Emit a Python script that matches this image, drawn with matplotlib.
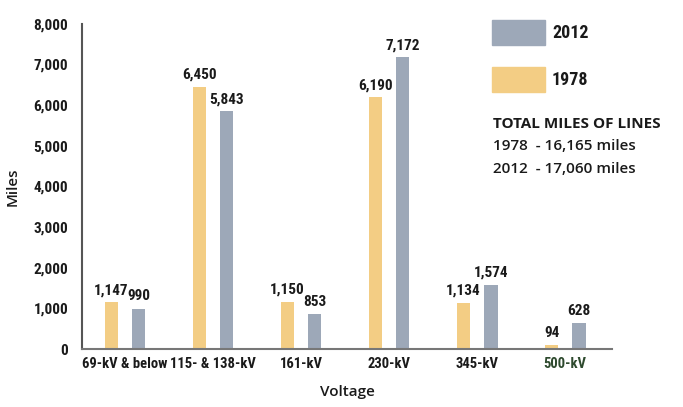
import numpy as np
import matplotlib.pyplot as plt

categories = ["69-kV & below", "115- & 138-kV", "161-kV", "230-kV", "345-kV", "500-kV"]
miles_1978 = [1147, 6450, 1150, 6190, 1134, 94]
miles_2012 = [990, 5843, 853, 7172, 1574, 628]
yticks = [0, 1000, 2000, 3000, 4000, 5000, 6000, 7000, 8000]

gold = "#F3CD84"
grey = "#9DA8B8"
txt = "#1a1a1a"
narrow = ["Roboto Condensed", "DejaVu Sans"]
plain = ["Open Sans", "DejaVu Sans"]

fig = plt.figure(figsize=(6.83, 4.07), dpi=100)
ax = fig.add_axes([0.12, 0.1425, 0.776, 0.799])

x = np.arange(len(categories))
w = 0.15
off = 0.155
b1 = ax.bar(x - off, miles_1978, w, color=gold)
b2 = ax.bar(x + off, miles_2012, w, color=grey)

for bars, vals in ((b1, miles_1978), (b2, miles_2012)):
    for r, v in zip(bars, vals):
        ax.text(r.get_x() + r.get_width() / 2, v + 130, f"{v:,}", ha="center", va="bottom",
                fontsize=11, fontweight="bold", family=narrow, color=txt)

ax.set_xlim(-0.49, 5.53)
ax.set_ylim(0, 8000)
ax.set_yticks(yticks)
ax.set_yticklabels([f"{t:,}" for t in yticks], fontsize=11, fontweight="bold", family=narrow, color=txt)
ax.set_xticks(x)
ax.set_xticklabels(categories, fontsize=10.5, fontweight="bold", family=narrow, color=txt)
ax.get_xticklabels()[-1].set_color("#2E4A2E")
ax.tick_params(axis="y", length=0, pad=10)
ax.tick_params(axis="x", length=0, pad=6)

for s in ("top", "right"):
    ax.spines[s].set_visible(False)
ax.spines["left"].set_color("#555555")
ax.spines["left"].set_linewidth(1.5)
ax.spines["bottom"].set_color("#777777")
ax.spines["bottom"].set_linewidth(1.5)

ax.set_ylabel("Miles", fontsize=11, fontweight="semibold", color=txt, family=plain)
ax.yaxis.set_label_coords(-0.118, 0.5)
ax.set_xlabel("Voltage", fontsize=11, fontweight="semibold", color=txt, family=plain, labelpad=10)

# legend drawn by hand, to the right
fig.patches.append(plt.Rectangle((492 / 683, 1 - 45 / 407), 53 / 683, 25 / 407,
                                 transform=fig.transFigure, color=grey))
fig.patches.append(plt.Rectangle((492 / 683, 1 - 92 / 407), 53 / 683, 25 / 407,
                                 transform=fig.transFigure, color=gold))
fig.text(552 / 683, 1 - 33 / 407, "2012", fontsize=13, fontweight="bold", family=narrow,
         color=txt, va="center")
fig.text(552 / 683, 1 - 80 / 407, "1978", fontsize=13, fontweight="bold", family=narrow,
         color=txt, va="center")
fig.text(493 / 683, 1 - 124 / 407, "TOTAL MILES OF LINES", fontsize=11, fontweight="bold",
         family=plain, color=txt, va="center")
fig.text(493 / 683, 1 - 146 / 407, "1978  - 16,165 miles", fontsize=11, fontweight="semibold",
         family=plain, color=txt, va="center")
fig.text(493 / 683, 1 - 169 / 407, "2012  - 17,060 miles", fontsize=11, fontweight="semibold",
         family=plain, color=txt, va="center")

fig.savefig("out.png", dpi=100)
